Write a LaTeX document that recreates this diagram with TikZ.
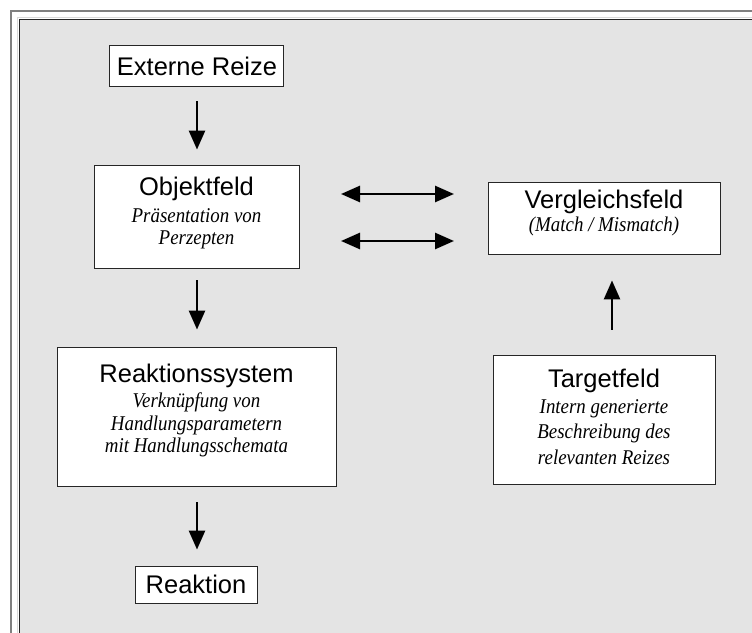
\documentclass[tikz,border=0pt]{standalone}
\usepackage{fontspec}
\setmainfont{Liberation Serif}
\setsansfont{Liberation Sans}
\newfontfamily\garit[FakeStretch=0.9]{Liberation Serif}
\usetikzlibrary{arrows.meta}
\definecolor{panel}{HTML}{E4E4E4}
\definecolor{frameg}{HTML}{808080}
\tikzset{
  box/.style={draw=black!85, line width=0.9pt, fill=white, inner sep=0pt},
  ttl/.style={anchor=base, font=\sffamily\fontsize{25.5}{30}\selectfont, inner sep=0pt},
  itl/.style={anchor=base, font=\garit\itshape\fontsize{21}{23}\selectfont, inner sep=0pt},
  arr/.style={line width=2.6pt, -{Triangle[length=19pt,width=16pt]}},
  darr/.style={line width=2.6pt, {Triangle[length=19pt,width=16pt]}-{Triangle[length=19pt,width=16pt]}}
}
\begin{document}
\begin{tikzpicture}[x=1pt,y=-1pt]
\useasboundingbox (0,0) rectangle (752,632);
\fill[white] (0,0) rectangle (752,632);
% frames
\draw[frameg, line width=1.6pt] (11,11) rectangle (780,660);
\draw[black!85, line width=1pt, fill=panel] (19,19) rectangle (780,660);
\draw[white!85!black, line width=0.6pt] (17.6,660) -- (17.6,17.6) -- (780,17.6);

% boxes
\node[box, minimum width=174pt, minimum height=41pt] (ext) at (196,65.5) {};
\node[box, minimum width=205pt, minimum height=103pt] (obj) at (196.5,216.5) {};
\node[box, minimum width=232pt, minimum height=72pt] (verg) at (604,218) {};
\node[box, minimum width=222pt, minimum height=129pt] (targ) at (604,419.5) {};
\node[box, minimum width=279pt, minimum height=139pt] (reak) at (196.5,416.5) {};
\node[box, minimum width=122pt, minimum height=37pt] (reakt) at (196,584.5) {};

% texts
\node[ttl] (ext-t) at (197,75.5) {Externe Reize};
\node[ttl] (obj-t) at (196.5,195) {Objektfeld};
\node[itl] (obj-1) at (196.5,222.5) {Präsentation von};
\node[itl] (obj-2) at (196.5,244) {Perzepten};
\node[ttl] (verg-t) at (604,208) {Vergleichsfeld};
\node[itl] (verg-1) at (604,231) {(Match / Mismatch)};
\node[ttl] (reak-t) at (196.5,382) {Reaktionssystem};
\node[itl] (reak-1) at (196.5,407) {Verknüpfung von};
\node[itl] (reak-2) at (196.5,430) {Handlungsparametern};
\node[itl] (reak-3) at (196.5,452.5) {mit Handlungsschemata};
\node[ttl] (targ-t) at (604,387) {Targetfeld};
\node[itl] (targ-1) at (604,413) {Intern generierte};
\node[itl] (targ-2) at (604,438.5) {Beschreibung des};
\node[itl] (targ-3) at (604,464.5) {relevanten Reizes};
\node[ttl] (reakt-t) at (196,593) {Reaktion};

% connectors
\draw[arr, shorten <=15pt, shorten >=15pt] ([xshift=1pt]ext.south) -- ([xshift=0.5pt]obj.north);
\draw[arr, shorten <=12pt, shorten >=17pt] ([xshift=0.5pt]obj.south) -- ([xshift=0.5pt]reak.north);
\draw[arr, shorten <=16pt, shorten >=16pt] ([xshift=0.5pt]reak.south) -- ([xshift=1pt]reakt.north);
\draw[arr, shorten <=25pt, shorten >=26pt] ([xshift=8pt]targ.north) -- ([xshift=8pt]verg.south);
\coordinate (h1a) at (341,194);
\coordinate (h1b) at (454,194);
\coordinate (h2a) at (341,241);
\coordinate (h2b) at (454,241);
\draw[darr] (h1a) -- (h1b);
\draw[darr] (h2a) -- (h2b);
\end{tikzpicture}
\end{document}
